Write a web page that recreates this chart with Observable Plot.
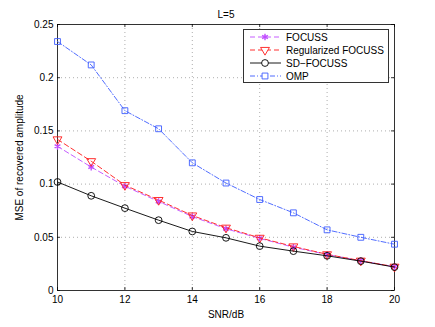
<!DOCTYPE html>
<html>
<head>
<meta charset="utf-8">
<script src="https://cdn.jsdelivr.net/npm/d3@7"></script>
<script src="https://cdn.jsdelivr.net/npm/@observablehq/plot@0.6"></script>
<style>
  html, body { margin: 0; padding: 0; background: white; }
  #wrap { position: relative; width: 435px; height: 327px; font-family: "Liberation Sans", Arial, sans-serif; }
  #legend { position: absolute; left: 243px; top: 29px; }
</style>
</head>
<body>
<div id="wrap"></div>
<script>
const snr = [10, 11, 12, 13, 14, 15, 16, 17, 18, 19, 20];
const focuss = [0.1355, 0.116, 0.098, 0.0837, 0.0695, 0.058, 0.049, 0.0407, 0.0338, 0.0279, 0.0223];
const regFocuss = [0.142, 0.1215, 0.099, 0.085, 0.0705, 0.059, 0.0495, 0.0414, 0.034, 0.028, 0.0223];
const sdFocuss = [0.102, 0.089, 0.0774, 0.0661, 0.0555, 0.0495, 0.0417, 0.037, 0.0326, 0.0276, 0.022];
const omp = [0.234, 0.212, 0.169, 0.152, 0.120, 0.101, 0.0855, 0.073, 0.057, 0.050, 0.0435];
const xTicks = [10, 12, 14, 16, 18, 20];
const yTicks = [0, 0.05, 0.1, 0.15, 0.2, 0.25];
const yTickLabels = ["0", "0.05", "0.1", "0.15", "0.2", "0.25"];

const seriesDefs = [
  {name: "FOCUSS", values: focuss, color: "#c04cff", dash: "5,3", symbol: "asterisk", rotate: 0, r: 3.1},
  {name: "Regularized FOCUSS", values: regFocuss, color: "#ff1a1a", dash: "5,3", symbol: "triangle", rotate: 180, r: 3.3},
  {name: "SD\u2212FOCUSS", values: sdFocuss, color: "#000000", dash: null, symbol: "circle", rotate: 0, r: 3.4},
  {name: "OMP", values: omp, color: "#3d5cff", dash: "5,2,1,2", symbol: "square", rotate: 0, r: 3.3}
];

const marks = [
  Plot.gridX(xTicks.slice(1, -1), {stroke: "#999", strokeOpacity: 1, strokeDasharray: "1,3", strokeWidth: 0.8}),
  Plot.gridY(yTicks.slice(1, -1), {stroke: "#999", strokeOpacity: 1, strokeDasharray: "1,3", strokeWidth: 0.8}),
  Plot.frame({stroke: "black", strokeWidth: 0.8}),
  Plot.tickX(xTicks, {x: d => d, insetTop: 263, stroke: "black", strokeWidth: 0.8}),
  Plot.tickX(xTicks, {x: d => d, insetBottom: 263, stroke: "black", strokeWidth: 0.8}),
  Plot.tickY(yTicks, {y: d => d, insetRight: 334, stroke: "black", strokeWidth: 0.8}),
  Plot.tickY(yTicks, {y: d => d, insetLeft: 334, stroke: "black", strokeWidth: 0.8}),
  Plot.axisX(xTicks, {tickSize: 0, tickPadding: 5, label: "SNR/dB", labelAnchor: "center", labelArrow: "none", labelOffset: 27}),
  Plot.axisY(yTicks, {tickSize: 0, tickPadding: 4, tickFormat: (d, i) => yTickLabels[i], label: "MSE of recovered amplitude", labelAnchor: "center", labelArrow: "none", labelOffset: 42}),
  Plot.text(["L=5"], {frameAnchor: "top", dy: -7, lineAnchor: "bottom", fontSize: 10})
];

for (const s of seriesDefs) {
  const data = snr.map((x, i) => ({x, y: s.values[i]}));
  marks.push(Plot.line(data, {x: "x", y: "y", stroke: s.color, strokeWidth: 0.9, strokeDasharray: s.dash || undefined}));
  marks.push(Plot.dot(data, {x: "x", y: "y", stroke: s.color, symbol: s.symbol, r: s.r, rotate: s.rotate, fill: "none", strokeWidth: s.symbol === "asterisk" ? 1.4 : 0.9}));
}

const chart = Plot.plot({
  width: 435, height: 327,
  marginLeft: 57, marginRight: 41, marginTop: 24, marginBottom: 37,
  style: {fontFamily: "'Liberation Sans', Arial, sans-serif", fontSize: "10px", color: "black", background: "white"},
  x: {domain: [10, 20]},
  y: {domain: [0, 0.25]},
  marks
});
const wrap = document.getElementById("wrap");
wrap.appendChild(chart);

// legend
const lw = 146, lh = 54;
const lg = d3.select(wrap).append("svg").attr("id", "legend").attr("width", lw).attr("height", lh)
  .style("font-family", "'Liberation Sans', Arial, sans-serif").style("font-size", "10px");
lg.append("rect").attr("x", 0.5).attr("y", 0.5).attr("width", lw - 1).attr("height", lh - 1)
  .attr("fill", "white").attr("stroke", "#333").attr("stroke-width", 1);
const symMap = {asterisk: d3.symbolAsterisk, triangle: d3.symbolTriangle, circle: d3.symbolCircle, square: d3.symbolSquare};
seriesDefs.forEach((s, i) => {
  const y = 8 + i * 13;
  const g = lg.append("g");
  g.append("line").attr("x1", 7).attr("x2", 38).attr("y1", y).attr("y2", y)
    .attr("stroke", s.color).attr("stroke-width", 0.9).attr("stroke-dasharray", s.dash || null);
  g.append("path").attr("d", d3.symbol(symMap[s.symbol], Math.PI * s.r * s.r)())
    .attr("transform", `translate(22,${y}) rotate(${s.rotate})`)
    .attr("fill", "white").attr("stroke", s.color).attr("stroke-width", s.symbol === "asterisk" ? 1.4 : 0.9);
  g.append("text").attr("x", 43).attr("y", y).attr("dy", "0.35em").text(s.name);
});
</script>
</body>
</html>
